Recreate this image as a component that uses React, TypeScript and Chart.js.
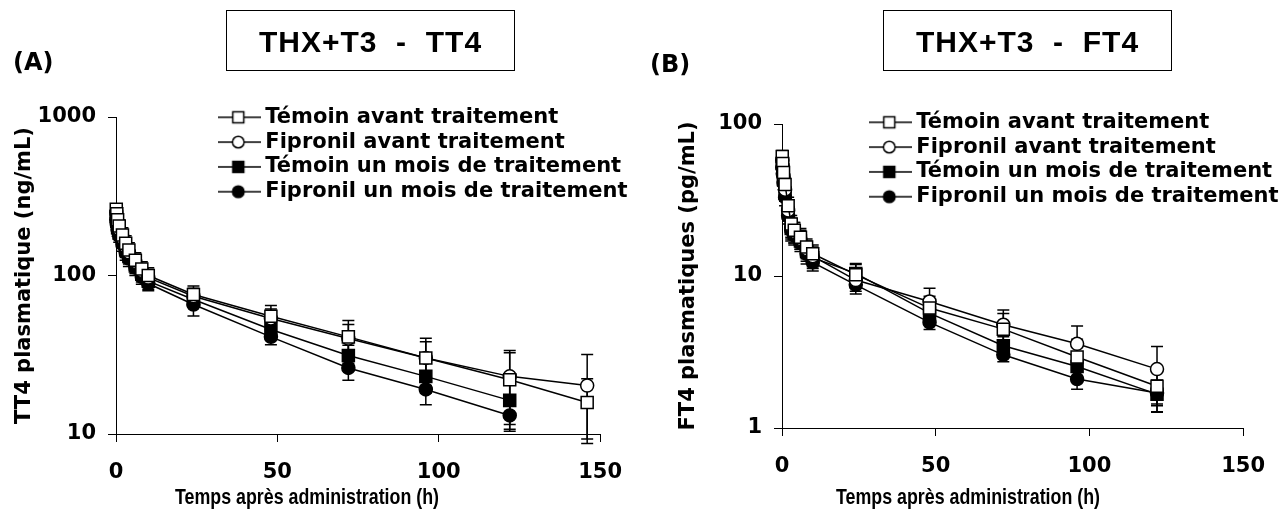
import React, { useEffect, useRef } from "react";
import { Chart, registerables } from "chart.js";

Chart.register(...registerables);

// ---------- Data ----------
const SERIES_LABELS = [
  "Témoin avant traitement",
  "Fipronil avant traitement",
  "Témoin un mois de traitement",
  "Fipronil un mois de traitement",
];

const X_TICKS = [0, 50, 100, 150];

// Panel A : TT4 (ng/mL)
const TIMES_A = [0.083, 0.25, 0.5, 1, 2, 3, 4, 6, 8, 10, 24, 48, 72, 96, 122, 146];
const TEMOIN_AVANT_A = [262, 245, 225, 205, 180, 160, 145, 125, 110, 100, 75.9, 55.3, 41, 30.2, 22, 15.8];
const FIPRONIL_AVANT_A = [250, 235, 215, 195, 172, 152, 140, 122, 107, 97, 74, 53.5, 40, 30.2, 23.1, 20.2];
const TEMOIN_MOIS_A = [235, 220, 200, 185, 165, 145, 132, 115, 102, 92, 70.5, 45.6, 31.3, 23.1, 16.3, null];
const FIPRONIL_MOIS_A = [225, 210, 195, 178, 158, 140, 128, 112, 98, 89, 65.6, 41, 26.1, 19.1, 13.1, null];
const SD_TEMOIN_AVANT_A = [20, 20, 20, 20, 20, 18, 16, 14, 12, 12, 10, 9.4, 8, 10, 10.5, 6.5];
const SD_FIPRONIL_AVANT_A = [20, 20, 18, 18, 18, 16, 15, 14, 12, 12, 9, 8, 12, 8, 10.5, 11.5];
const SD_TEMOIN_MOIS_A = [18, 18, 18, 16, 16, 15, 14, 12, 11, 10, 7, 6, 5, 5, 5.6, 0];
const SD_FIPRONIL_MOIS_A = [18, 18, 18, 16, 16, 15, 14, 12, 10, 9, 10, 4.4, 4.3, 3.8, 2.7, 0];
const Y_TICKS_A = [10, 100, 1000];

// Panel B : FT4 (pg/mL)
const TIMES_B = [0.083, 0.25, 0.5, 1, 2, 3, 4, 6, 8, 10, 24, 48, 72, 96, 122];
const TEMOIN_AVANT_B = [61, 55, 48, 40, 29, 22, 20, 18, 15.5, 14, 10.2, 6.15, 4.47, 2.93, 1.88];
const FIPRONIL_AVANT_B = [58, 52, 45, 37, 27, 21, 19.5, 17.5, 15, 13.5, 9.4, 6.8, 4.78, 3.58, 2.44];
const TEMOIN_MOIS_B = [55, 50, 43, 35, 26, 20.5, 19, 17, 14.5, 13.2, 10.4, 5.7, 3.48, 2.54, 1.67];
const FIPRONIL_MOIS_B = [52, 47, 41, 33, 25, 20, 18.5, 16.5, 14, 12.3, 8.75, 4.95, 3.03, 2.1, 1.7];
const SD_TEMOIN_AVANT_B = [6, 5, 5, 4, 4, 3, 2.5, 2.5, 2, 2, 1.9, 1.2, 1.2, 0.9, 0.6];
const SD_FIPRONIL_AVANT_B = [6, 5, 5, 4, 4, 3, 3, 2.5, 2, 2, 1.8, 1.5, 1.2, 1.1, 1.0];
const SD_TEMOIN_MOIS_B = [5, 5, 4, 4, 3, 3, 2.5, 2, 2, 2, 1.5, 0.8, 0.5, 0.4, 0.4];
const SD_FIPRONIL_MOIS_B = [5, 5, 4, 4, 3, 3, 2.5, 2, 2, 1.5, 0.8, 0.5, 0.3, 0.3, 0.3];
const Y_TICKS_B = [1, 10, 100];

// ---------- Styles ----------
const MARKERS = [
  { shape: "rect", filled: false },
  { shape: "circle", filled: false },
  { shape: "rect", filled: true },
  { shape: "circle", filled: true },
];
const WIDE_FONT = "'DejaVu Sans', Verdana, sans-serif";
const ARIAL_FONT = "'Liberation Sans', Arial, sans-serif";

function makeIcon(shape: string, filled: boolean): HTMLCanvasElement {
  const c = document.createElement("canvas");
  c.width = 46;
  c.height = 20;
  const ctx = c.getContext("2d")!;
  ctx.strokeStyle = "#000";
  ctx.lineWidth = 1.5;
  ctx.beginPath();
  ctx.moveTo(0, 10);
  ctx.lineTo(46, 10);
  ctx.stroke();
  ctx.fillStyle = filled ? "#000" : "#fff";
  ctx.beginPath();
  if (shape === "rect") {
    ctx.rect(23 - 5.5, 10 - 5.5, 11, 11);
  } else {
    ctx.arc(23, 10, 5.8, 0, Math.PI * 2);
  }
  ctx.fill();
  ctx.stroke();
  return c;
}

type PanelCfg = {
  times: number[];
  series: (number | null)[][];
  sds: number[][];
  yTicks: number[];
  yTitle: string;
  padRight: number;
  padTop: number;
  xScaleHeight: number;
  yScaleWidth: number;
  yTitlePad: number;
  legendLeft: number;
  legendTop: number;
};

function buildChart(canvas: HTMLCanvasElement, cfg: PanelCfg) {
  const icons = MARKERS.map((m) => makeIcon(m.shape, m.filled));
  const datasets = cfg.series.map((vals, i) => {
    const m = MARKERS[i];
    return {
      label: SERIES_LABELS[i],
      data: cfg.times
        .map((t, j) => ({ x: t, y: vals[j] }))
        .filter((p) => p.y !== null && p.y !== undefined),
      borderColor: "#000",
      borderWidth: 1.5,
      backgroundColor: m.filled ? "#000" : "#fff",
      pointStyle: m.shape,
      pointRadius: m.shape === "rect" ? 8.5 : 6.5,
      pointBorderColor: "#000",
      pointBorderWidth: 1.5,
      pointBackgroundColor: m.filled ? "#000" : "#fff",
      tension: 0,
      clip: false as any,
    };
  });

  const errorBars = {
    id: "errorBars",
    beforeDatasetsDraw(chart: any) {
      const ctx = chart.ctx;
      const xs = chart.scales.x;
      const ys = chart.scales.y;
      ctx.save();
      ctx.strokeStyle = "#000";
      ctx.lineWidth = 1.5;
      cfg.series.forEach((vals, i) => {
        vals.forEach((v, j) => {
          const sd = cfg.sds[i][j];
          if (v === null || v === undefined || !sd) return;
          const x = xs.getPixelForValue(cfg.times[j]);
          const yT = ys.getPixelForValue(v + sd);
          const yB = ys.getPixelForValue(Math.max(v - sd, v * 0.05));
          ctx.beginPath();
          ctx.moveTo(x, yT);
          ctx.lineTo(x, yB);
          ctx.moveTo(x - 6, yT);
          ctx.lineTo(x + 6, yT);
          ctx.moveTo(x - 6, yB);
          ctx.lineTo(x + 6, yB);
          ctx.stroke();
        });
      });
      ctx.restore();
    },
  };

  const legendPlacer = {
    id: "legendPlacer",
    afterLayout(chart: any) {
      const lg = chart.legend;
      if (!lg) return;
      const w = lg.width;
      lg.left = cfg.legendLeft;
      lg.top = cfg.legendTop;
      lg.right = cfg.legendLeft + w;
      lg.bottom = cfg.legendTop + 1000;
    },
  };

  return new Chart(canvas, {
    type: "line",
    data: { datasets: datasets as any },
    options: {
      animation: false,
      responsive: false,
      maintainAspectRatio: false,
      layout: { padding: { left: 0, right: cfg.padRight, top: cfg.padTop, bottom: 0 } },
      plugins: {
        tooltip: { enabled: false },
        title: { display: false },
        legend: {
          display: true,
          position: "chartArea" as any,
          align: "start",
          labels: {
            usePointStyle: true,
            pointStyleWidth: 33,
            boxHeight: 21,
            padding: 3.8,
            color: "#000",
            font: { family: WIDE_FONT, size: 21, weight: "bold" },
            generateLabels: (chart: any) =>
              chart.data.datasets.map((ds: any, i: number) => ({
                text: ds.label,
                pointStyle: icons[i],
                fillStyle: "#000",
                strokeStyle: "#000",
                fontColor: "#000",
                lineWidth: 0,
                hidden: false,
                datasetIndex: i,
              })),
          },
        },
      },
      scales: {
        x: {
          type: "linear",
          min: 0,
          max: 150,
          afterBuildTicks: (scale: any) => {
            scale.ticks = X_TICKS.map((v) => ({ value: v }));
          },
          afterFit: (scale: any) => {
            scale.height = cfg.xScaleHeight;
          },
          ticks: {
            color: "#000",
            padding: 18,
            font: { family: WIDE_FONT, size: 21, weight: "bold" },
            callback: (v: any) => String(v),
          },
          grid: { drawOnChartArea: false, drawTicks: true, tickLength: 8, color: "#000", lineWidth: 1 },
          border: { display: true, color: "#000", width: 1 },
        },
        y: {
          type: "logarithmic",
          min: cfg.yTicks[0],
          max: cfg.yTicks[cfg.yTicks.length - 1],
          afterBuildTicks: (scale: any) => {
            scale.ticks = cfg.yTicks.map((v) => ({ value: v }));
          },
          afterFit: (scale: any) => {
            scale.width = cfg.yScaleWidth;
          },
          ticks: {
            color: "#000",
            padding: 12,
            font: { family: WIDE_FONT, size: 21, weight: "bold" },
            callback: (v: any) => String(v),
          },
          grid: { drawOnChartArea: false, drawTicks: true, tickLength: 8, color: "#000", lineWidth: 1 },
          border: { display: true, color: "#000", width: 1 },
          title: {
            display: true,
            text: cfg.yTitle,
            color: "#000",
            font: { family: WIDE_FONT, size: 21, weight: "bold" },
            padding: { top: cfg.yTitlePad, bottom: 0 },
          },
        },
      },
    },
    plugins: [errorBars, legendPlacer],
  } as any);
}

const PANEL_A: PanelCfg = {
  times: TIMES_A,
  series: [TEMOIN_AVANT_A, FIPRONIL_AVANT_A, TEMOIN_MOIS_A, FIPRONIL_MOIS_A],
  sds: [SD_TEMOIN_AVANT_A, SD_FIPRONIL_AVANT_A, SD_TEMOIN_MOIS_A, SD_FIPRONIL_MOIS_A],
  yTicks: Y_TICKS_A,
  yTitle: "TT4 plasmatique (ng/mL)",
  padRight: 29,
  padTop: 117,
  xScaleHeight: 78,
  yScaleWidth: 116,
  yTitlePad: 12,
  legendLeft: 218,
  legendTop: 103,
};

const PANEL_B: PanelCfg = {
  times: TIMES_B,
  series: [TEMOIN_AVANT_B, FIPRONIL_AVANT_B, TEMOIN_MOIS_B, FIPRONIL_MOIS_B],
  sds: [SD_TEMOIN_AVANT_B, SD_FIPRONIL_AVANT_B, SD_TEMOIN_MOIS_B, SD_FIPRONIL_MOIS_B],
  yTicks: Y_TICKS_B,
  yTitle: "FT4 plasmatiques (pg/mL)",
  padRight: 26,
  padTop: 124,
  xScaleHeight: 84,
  yScaleWidth: 142,
  yTitlePad: 36,
  legendLeft: 229,
  legendTop: 108,
};

function Panel({ cfg, left, width }: { cfg: PanelCfg; left: number; width: number }) {
  const ref = useRef<HTMLCanvasElement | null>(null);
  useEffect(() => {
    if (!ref.current) return;
    const chart = buildChart(ref.current, cfg);
    return () => chart.destroy();
  }, [cfg]);
  return (
    <canvas
      ref={ref}
      width={width}
      height={512}
      style={{ position: "absolute", left, top: 0, width, height: 512 }}
    />
  );
}

const boxStyle = (left: number, width: number): React.CSSProperties => ({
  position: "absolute",
  left,
  top: 10,
  width,
  height: 61,
  boxSizing: "border-box",
  border: "1.5px solid #000",
  display: "flex",
  alignItems: "center",
  justifyContent: "center",
  fontFamily: ARIAL_FONT,
  fontWeight: "bold",
  fontSize: 30,
  letterSpacing: 1,
  whiteSpace: "pre",
  color: "#000",
  paddingTop: 2,
});

const panelLabel = (left: number, top: number): React.CSSProperties => ({
  position: "absolute",
  left,
  top,
  fontFamily: WIDE_FONT,
  fontWeight: "bold",
  fontSize: 24,
  lineHeight: "28px",
  color: "#000",
});

const xTitle = (left: number): React.CSSProperties => ({
  position: "absolute",
  left,
  top: 485,
  fontFamily: ARIAL_FONT,
  fontWeight: "bold",
  fontSize: 22,
  lineHeight: "24px",
  whiteSpace: "nowrap",
  color: "#000",
  transform: "scaleX(0.81)",
  transformOrigin: "left center",
});

export default function App() {
  return (
    <div
      style={{
        position: "fixed",
        left: 0,
        top: 0,
        width: 1283,
        height: 512,
        background: "#fff",
        overflow: "hidden",
      }}
    >
      <Panel cfg={PANEL_A} left={0} width={640} />
      <Panel cfg={PANEL_B} left={640} width={643} />
      <div style={boxStyle(226, 289)}>{"THX+T3  -  TT4"}</div>
      <div style={boxStyle(883, 289)}>{"THX+T3  -  FT4"}</div>
      <div style={panelLabel(13, 48)}>(A)</div>
      <div style={panelLabel(650, 50)}>(B)</div>
      <div style={xTitle(175)}>Temps après administration (h)</div>
      <div style={xTitle(836)}>Temps après administration (h)</div>
    </div>
  );
}
